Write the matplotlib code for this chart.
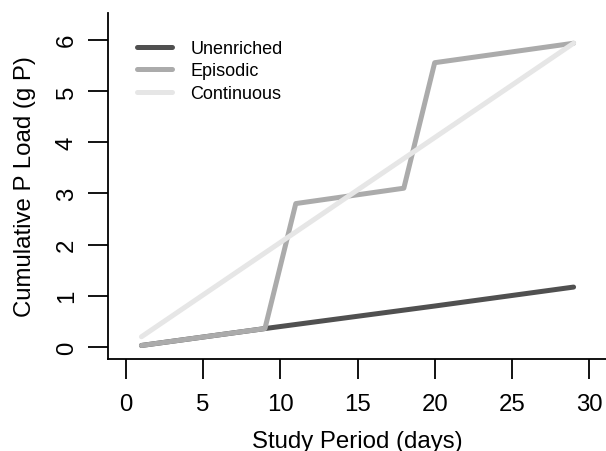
import matplotlib
matplotlib.use("Agg")
import matplotlib.pyplot as plt

plt.rcParams['font.family'] = ['Liberation Sans', 'DejaVu Sans']

unenriched_x = [1, 9, 20, 29]
unenriched_y = [0.03, 0.36, 0.80, 1.17]
episodic_x = [1, 9, 11, 18, 20, 29]
episodic_y = [0.03, 0.36, 2.80, 3.10, 5.55, 5.93]
continuous_x = [1, 29]
continuous_y = [0.20, 5.93]

xticks = [0, 5, 10, 15, 20, 25, 30]
yticks = [0, 1, 2, 3, 4, 5, 6]

W, H = 606, 452
fig = plt.figure(figsize=(W / 100, H / 100), dpi=100)
ax = fig.add_axes([107.5 / W, 1 - 360 / H, (W - 107.5) / W, (360 - 14) / H])

lw = 3.6
ax.plot(unenriched_x, unenriched_y, color='#505050', lw=lw, solid_capstyle='round', label='Unenriched')
ax.plot(episodic_x, episodic_y, color='#ababab', lw=lw, solid_capstyle='round', solid_joinstyle='round', label='Episodic')
ax.plot(continuous_x, continuous_y, color='#e6e6e6', lw=lw, solid_capstyle='round', label='Continuous')

ax.set_xlim(-1.2, 31.1)
ax.set_ylim(-0.234, 6.52)
ax.set_xticks(xticks)
ax.set_yticks(yticks)
ax.spines['top'].set_visible(False)
ax.spines['right'].set_visible(False)
for s in ('left', 'bottom'):
    ax.spines[s].set_linewidth(1.3)
fs = 17.3
ax.tick_params(axis='both', length=14.4, width=1.3, labelsize=fs)
ax.tick_params(axis='x', pad=10)
ax.tick_params(axis='y', pad=7, labelrotation=90)
for lab in ax.get_yticklabels():
    lab.set_va('center')

ax.set_xlabel('Study Period (days)', fontsize=fs, va='center')
ax.set_ylabel('Cumulative P Load (g P)', fontsize=fs, va='center')
ax.yaxis.set_label_coords(25 / W, 1 - 187 / H, transform=fig.transFigure)
ax.xaxis.set_label_coords(357 / W, 1 - 442 / H, transform=fig.transFigure)

leg = ax.legend(loc='upper left', bbox_to_anchor=(137 / W, 1 - 41 / H),
                bbox_transform=fig.transFigure, frameon=False, borderpad=0,
                borderaxespad=0, fontsize=13, handlelength=1.95,
                handletextpad=1.0, labelspacing=0.3)

fig.savefig('out.png', dpi=100)
